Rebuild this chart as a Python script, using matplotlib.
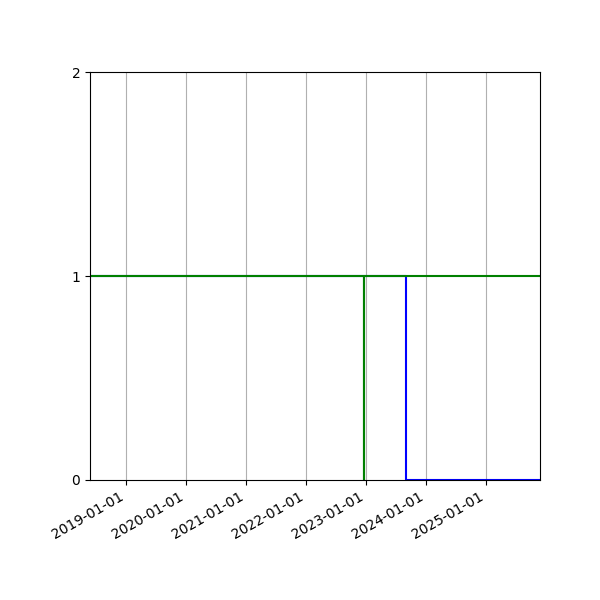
import matplotlib
matplotlib.use('Agg')
import matplotlib.pyplot as plt
import matplotlib.dates as mdates
import pandas as pd

# step series (value holds from the date until the next one)
blue_dates = ['2018-05-27', '2023-09-01', '2025-11-27']
blue_values = [1, 0, 0]

green_dates = ['2018-05-27', '2022-12-18', '2022-12-20', '2025-11-27']
green_values = [1, 0, 1, 1]

blue_x = pd.to_datetime(blue_dates)
green_x = pd.to_datetime(green_dates)

fig, ax = plt.subplots(figsize=(6, 6), dpi=100)
ax.step(blue_x, blue_values, where='post', color='blue')
ax.step(green_x, green_values, where='post', color='green')

ax.set_xlim(pd.Timestamp('2018-05-27'), pd.Timestamp('2025-11-27'))
ax.set_ylim(0, 2)
ax.set_yticks([0, 1, 2])
ax.xaxis.set_major_locator(mdates.YearLocator())
ax.xaxis.set_major_formatter(mdates.DateFormatter('%Y-%m-%d'))
ax.grid(axis='x', color='#b0b0b0')
fig.autofmt_xdate()
fig.subplots_adjust(left=0.15)

plt.savefig('out.png')
